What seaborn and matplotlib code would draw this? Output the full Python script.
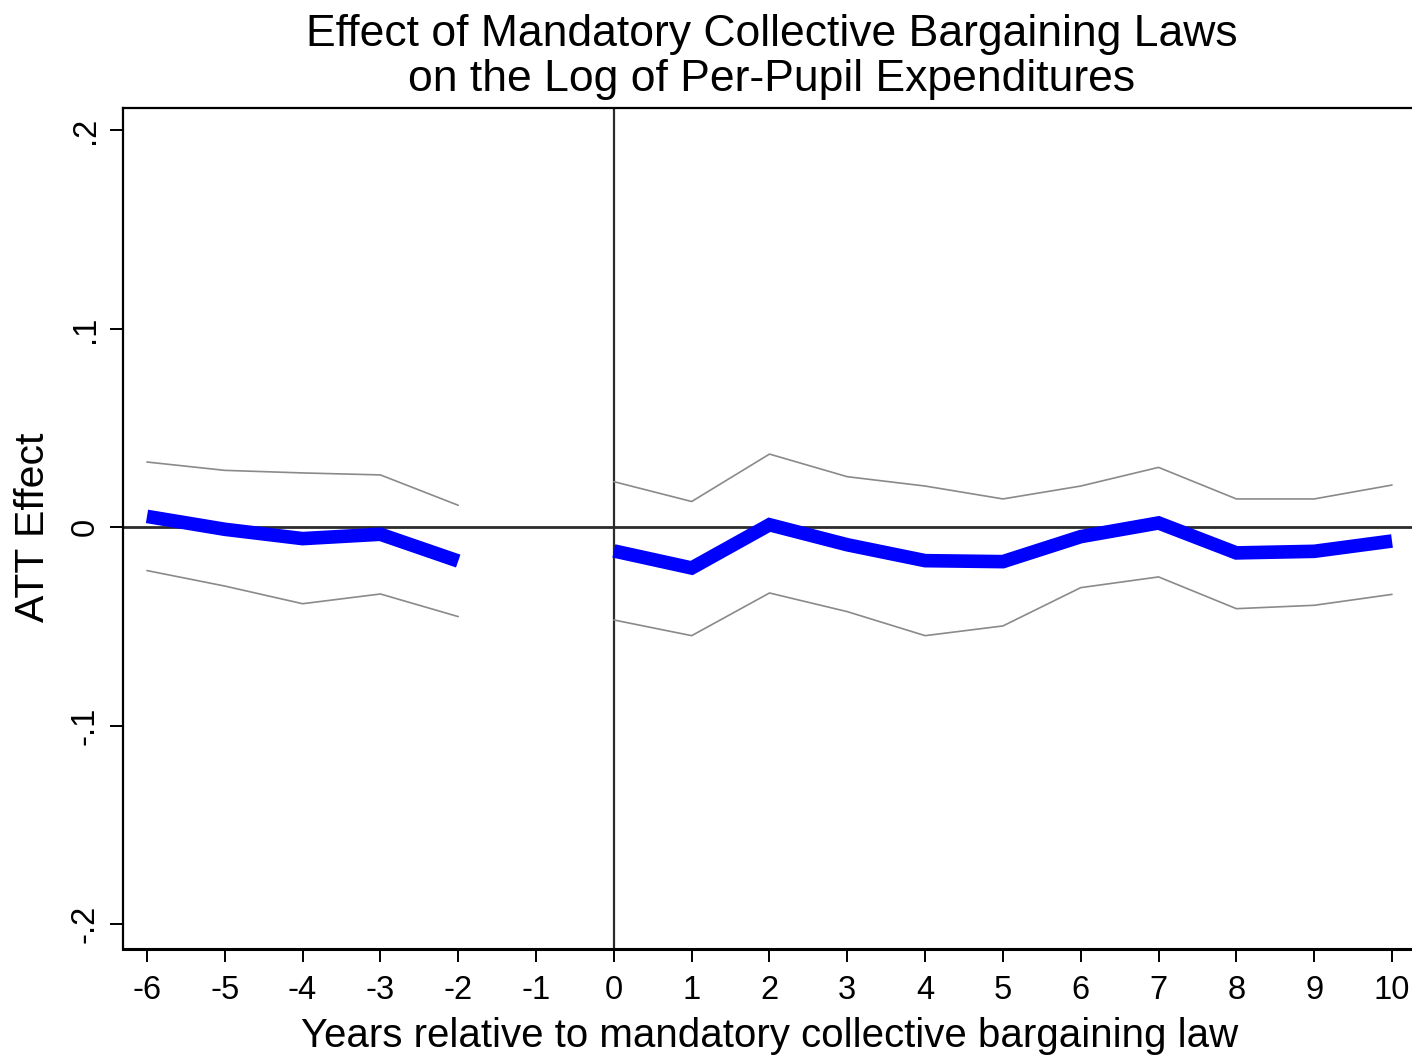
import numpy as np
import pandas as pd
import matplotlib
matplotlib.use("Agg")
import matplotlib.pyplot as plt
import seaborn as sns

# ---- data ----
years = [-6, -5, -4, -3, -2, 0, 1, 2, 3, 4, 5, 6, 7, 8, 9, 10]
segment = ["pre"] * 5 + ["post"] * 11
att = [0.0055, -0.0010, -0.0057, -0.0035, -0.0170,
       -0.0119, -0.0205, 0.0013, -0.0088, -0.0168, -0.0173,
       -0.0047, 0.0022, -0.0129, -0.0121, -0.0069]
upper = [0.0329, 0.0287, 0.0274, 0.0264, 0.0111,
         0.0230, 0.0130, 0.0369, 0.0255, 0.0208, 0.0143,
         0.0208, 0.0302, 0.0143, 0.0143, 0.0213]
lower = [-0.0218, -0.0296, -0.0385, -0.0336, -0.0450,
         -0.0467, -0.0546, -0.0331, -0.0425, -0.0546, -0.0497,
         -0.0304, -0.0250, -0.0410, -0.0393, -0.0338]

xticks = list(range(-6, 11))
yticks = [-0.2, -0.1, 0.0, 0.1, 0.2]
ytick_labels = ["-.2", "-.1", "0", ".1", ".2"]

title = "Effect of Mandatory Collective Bargaining Laws\non the Log of Per-Pupil Expenditures"
xlabel = "Years relative to mandatory collective bargaining law"
ylabel = "ATT Effect"

df = pd.DataFrame({"year": years, "seg": segment, "att": att,
                   "upper": upper, "lower": lower})

# ---- style ----
sns.set_style("white")
plt.rcParams["font.family"] = ["Liberation Sans", "DejaVu Sans"]

W, H = 1412, 1056
fig = plt.figure(figsize=(W / 100, H / 100), dpi=100)
ax = fig.add_axes([123 / W, 1 - 949 / H, (W - 123) / W, (949 - 108) / H])

# reference lines
ax.axhline(0, color="#2b2b2b", lw=2.0, zorder=1)
ax.axvline(0, color="#2b2b2b", lw=1.6, zorder=1)

# confidence bounds
for col in ["upper", "lower"]:
    sns.lineplot(data=df, x="year", y=col, units="seg", estimator=None,
                 color="#8a8a8a", lw=1.2, ax=ax, zorder=2)

# point estimates
sns.lineplot(data=df, x="year", y="att", units="seg", estimator=None,
             color="#0000ff", lw=9.8, ax=ax, zorder=3,
             solid_capstyle="butt", solid_joinstyle="miter")

ax.set_xlim(-6.308, 10.257)
ax.set_ylim(-0.2125, 0.2113)

ax.set_xticks(xticks)
ax.set_xticklabels([str(t) for t in xticks])
ax.set_yticks(yticks)
ax.set_yticklabels(ytick_labels)

ax.tick_params(axis="both", which="major", direction="out", length=9.4,
               width=1.4, color="black", labelsize=23.5, labelcolor="black")
ax.tick_params(axis="x", pad=9.5, bottom=True)
ax.tick_params(axis="y", pad=6.5, left=True, labelrotation=90)
for lab in ax.get_yticklabels():
    lab.set_va("center")

ax.set_xlabel("")
ax.set_ylabel("")

for side in ["left", "top"]:
    ax.spines[side].set_color("black")
    ax.spines[side].set_linewidth(1.6)
ax.spines["bottom"].set_color("black")
ax.spines["bottom"].set_linewidth(2.2)
ax.spines["right"].set_visible(False)

# titles / labels
fig.text(772 / W, 1 - 91 / H, title, ha="center", va="baseline",
         fontsize=32, color="black", linespacing=1.12)
fig.text(770 / W, 1 - 1047 / H, xlabel, ha="center", va="baseline",
         fontsize=29, color="black")
fig.text(33 / W, 1 - 527 / H, ylabel, ha="center", va="center",
         rotation=90, fontsize=29.5, color="black")

fig.savefig("out.png", dpi=100, facecolor="white")
